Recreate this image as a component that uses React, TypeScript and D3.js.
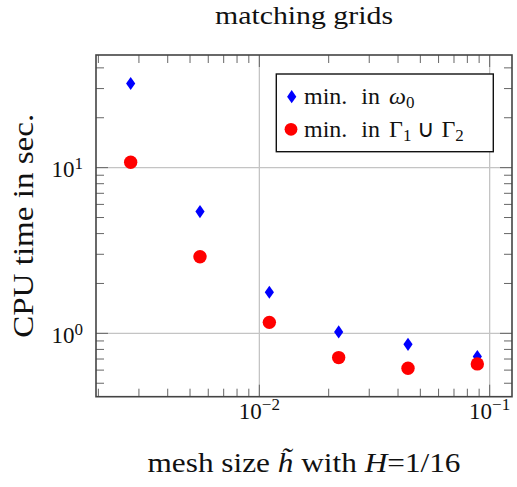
import React from "react";
import * as d3 from "d3";

// ---- data ----
const meshSizes = [0.002762, 0.005524, 0.01105, 0.0221, 0.0442, 0.0884];
const minInOmega0 = [32.2, 5.43, 1.77, 1.02, 0.859, 0.725];
const minInGamma = [10.78, 2.9, 1.165, 0.714, 0.616, 0.654];
const xMajorExps = [-2, -1];
const yMajorExps = [0, 1];
const titleText = "matching grids";
const yLabelText = "CPU time in sec.";

const W = 517;
const H = 487;
const plot = { left: 96, right: 512, top: 55, bottom: 396.7 };
const FONT = "'Liberation Serif', 'Times New Roman', serif";

function enlargedLogDomain(vals: number[]): [number, number] {
  const lo = Math.log10(d3.min(vals) as number);
  const hi = Math.log10(d3.max(vals) as number);
  const pad = (hi - lo) * 0.1;
  return [Math.pow(10, lo - pad), Math.pow(10, hi + pad)];
}

function logTicks(domain: [number, number]) {
  const out: { v: number; major: boolean }[] = [];
  const k0 = Math.floor(Math.log10(domain[0]));
  const k1 = Math.ceil(Math.log10(domain[1]));
  for (let k = k0; k <= k1; k++) {
    for (let m = 1; m <= 9; m++) {
      const v = m * Math.pow(10, k);
      if (v >= domain[0] && v <= domain[1]) out.push({ v, major: m === 1 });
    }
  }
  return out;
}

export default function App() {
  const xDom = enlargedLogDomain(meshSizes);
  const yDom = enlargedLogDomain([...minInOmega0, ...minInGamma]);
  const x = d3.scaleLog().domain(xDom).range([plot.left, plot.right]);
  const y = d3.scaleLog().domain(yDom).range([plot.bottom, plot.top]);
  const xt = logTicks(xDom);
  const yt = logTicks(yDom);

  const gridColor = "#c4c4c4";
  const axisColor = "#444";
  const tickColor = "#666";
  const majorLen = 12;
  const minorLen = 8;

  const diamond = "M0,-6.6L4.6,0L0,6.6L-4.6,0Z";
  const cx = (plot.left + plot.right) / 2;

  return (
    <svg
      width={W}
      height={H}
      style={{ position: "absolute", left: 0, top: 0, background: "#fff" }}
      fontFamily={FONT}
    >
      <rect x={0} y={0} width={W} height={H} fill="#fff" />
      {/* grid */}
      {xt.filter((t) => t.major).map((t, i) => (
        <line key={"gx" + i} x1={x(t.v)} x2={x(t.v)} y1={plot.top} y2={plot.bottom} stroke={gridColor} strokeWidth={1.3} />
      ))}
      {yt.filter((t) => t.major).map((t, i) => (
        <line key={"gy" + i} y1={y(t.v)} y2={y(t.v)} x1={plot.left} x2={plot.right} stroke={gridColor} strokeWidth={1.3} />
      ))}
      {/* ticks */}
      {xt.map((t, i) => {
        const L = t.major ? majorLen : minorLen;
        const xx = x(t.v);
        return (
          <g key={"tx" + i} stroke={tickColor} strokeWidth={1}>
            <line x1={xx} x2={xx} y1={plot.bottom} y2={plot.bottom - L} />
            <line x1={xx} x2={xx} y1={plot.top} y2={plot.top + L} />
          </g>
        );
      })}
      {yt.map((t, i) => {
        const L = t.major ? majorLen : minorLen;
        const yy = y(t.v);
        return (
          <g key={"ty" + i} stroke={tickColor} strokeWidth={1}>
            <line y1={yy} y2={yy} x1={plot.left} x2={plot.left + L} />
            <line y1={yy} y2={yy} x1={plot.right} x2={plot.right - L} />
          </g>
        );
      })}
      {/* axis box */}
      <rect
        x={plot.left}
        y={plot.top}
        width={plot.right - plot.left}
        height={plot.bottom - plot.top}
        fill="none"
        stroke={axisColor}
        strokeWidth={1.6}
      />
      {/* tick labels */}
      {xMajorExps.map((e) => (
        <text key={"xl" + e} x={x(Math.pow(10, e))} y={419} textAnchor="middle" fontSize={23} fill="#111">
          10
          <tspan dy={-9} fontSize={17}>
            {e < 0 ? "\u2212" + Math.abs(e) : String(e)}
          </tspan>
        </text>
      ))}
      {yMajorExps.map((e) => (
        <text key={"yl" + e} x={83} y={y(Math.pow(10, e)) + 9.5} textAnchor="end" fontSize={23} fill="#111">
          10
          <tspan dy={-8} fontSize={17}>
            {String(e)}
          </tspan>
        </text>
      ))}
      {/* data */}
      {meshSizes.map((hv, i) => (
        <path key={"b" + i} d={diamond} transform={`translate(${x(hv)},${y(minInOmega0[i])})`} fill="#0000ff" />
      ))}
      {meshSizes.map((hv, i) => (
        <circle key={"r" + i} cx={x(hv)} cy={y(minInGamma[i])} r={6.7} fill="#ff0000" />
      ))}
      {/* legend */}
      <rect x={276.3} y={74} width={217} height={77.7} fill="#fff" stroke="#111" strokeWidth={1.4} />
      <path d={diamond} transform="translate(291.7,96.7)" fill="#0000ff" />
      <circle cx={291} cy={129.3} r={6.4} fill="#ff0000" />
      <text x={304} y={104} fontSize={24} fill="#111">
        min.
        <tspan dx={14}>in</tspan>
        <tspan dx={9} fontStyle="italic">ω</tspan>
        <tspan dy={4} fontSize={17}>0</tspan>
      </text>
      <text x={304} y={136.5} fontSize={24} fill="#111">
        min.
        <tspan dx={14}>in</tspan>
        <tspan dx={9}>Γ</tspan>
        <tspan dy={4} fontSize={17}>1</tspan>
        <tspan dy={-4} dx={6}>∪</tspan>
        <tspan dx={6}>Γ</tspan>
        <tspan dy={4} fontSize={17}>2</tspan>
      </text>
      {/* title */}
      <text x={cx} y={23.5} textAnchor="middle" fontSize={26} fill="#111" textLength={178} lengthAdjust="spacingAndGlyphs">
        {titleText}
      </text>
      {/* x label */}
      <text x={cx} y={472} textAnchor="middle" fontSize={27} fill="#111" textLength={313} lengthAdjust="spacingAndGlyphs">
        mesh size <tspan fontStyle="italic">h̃</tspan> with <tspan fontStyle="italic">H</tspan>=1/16
      </text>
      {/* y label */}
      <text
        transform={`translate(33,${(plot.top + plot.bottom) / 2}) rotate(-90)`}
        textAnchor="middle"
        fontSize={29}
        fill="#111"
        textLength={224}
        lengthAdjust="spacingAndGlyphs"
      >
        {yLabelText}
      </text>
    </svg>
  );
}
